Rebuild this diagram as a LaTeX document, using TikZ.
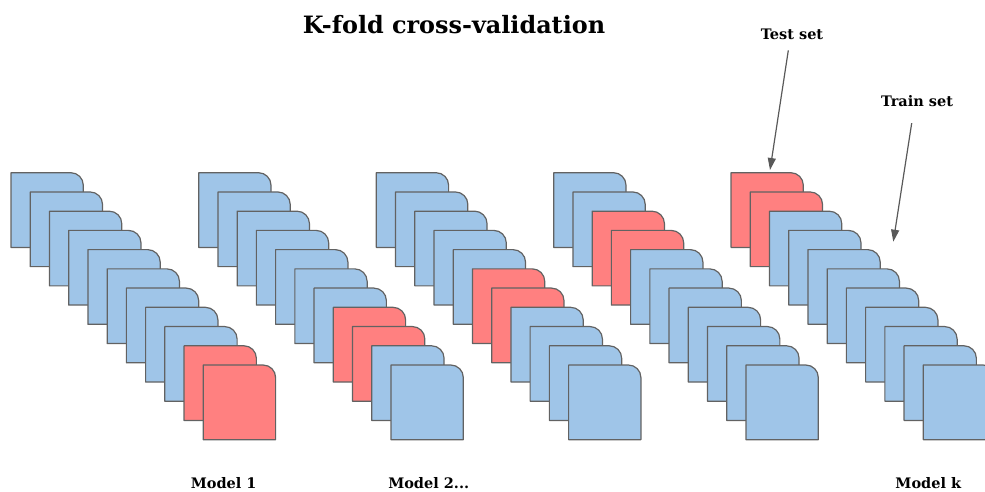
\documentclass[tikz,border=0pt]{standalone}
\usepackage{fontspec}
\setmainfont{DejaVu Serif}
\usetikzlibrary{arrows.meta}

\definecolor{foldblue}{HTML}{9FC5E8}
\definecolor{foldred}{HTML}{FF8080}
\definecolor{cardline}{HTML}{626262}
\definecolor{pointergray}{HTML}{595959}

\tikzset{
  cardedge/.style={draw=cardline, line width=1.2pt, line join=round},
  % one fold: a 72.3 x 74.7 card with its top-right corner rounded
  pics/foldcard/.style={code={
    \path[cardedge, fill=#1] (0,74.7) -- (0,0) -- (59.8,0)
      .. controls (66.7,0) and (72.3,5.6) .. (72.3,12.5) -- (72.3,74.7) -- cycle;
  }},
  caption/.style={font=\fontsize{14.5}{16}\selectfont\bfseries, inner sep=0pt, anchor=base},
  pointer/.style={draw=pointergray, line width=1.2pt,
    -{Triangle[length=12pt, width=8pt]}},
}

\begin{document}
\begin{tikzpicture}[x=1pt, y=-1pt]
  \useasboundingbox (0,0) rectangle (985,491);
  \clip (0,0) rectangle (985,491);

  % title
  \node[anchor=base, inner sep=0pt, font=\fontsize{23.9}{28}\selectfont\bfseries]
    (title) at (454,33) {K-fold cross-validation};

  % five stacks of eleven folds; the two red folds form the test set
  \foreach \sx/\r in {11/9, 198.7/7, 376.3/5, 553.7/2, 731/0} {
    \foreach \k in {0,...,10} {
      \pgfmathsetmacro\cx{\sx+19.23*\k}
      \pgfmathsetmacro\cy{172.7+19.23*\k}
      \ifnum\k=\r \def\cc{foldred}\else
        \ifnum\k=\numexpr\r+1\relax \def\cc{foldred}\else \def\cc{foldblue}\fi
      \fi
      \pic at (\cx,\cy) {foldcard=\cc};
    }
  }

  % model captions
  \node[caption] (model1) at (223.7,488) {Model 1};
  \node[caption] (model2) at (428.7,488) {Model 2...};
  \node[caption] (modelk) at (928.3,488) {Model k};

  % set labels with their pointers
  \node[caption] (testlbl) at (792,39.5) {Test set};
  \node[caption] (trainlbl) at (917,106.5) {Train set};
  \coordinate (testtip) at (770,170);
  \coordinate (traintip) at (893.3,241.7);
  \draw[pointer] ([shift={(-3.7pt,-10.5pt)}]testlbl.south) -- (testtip);
  \draw[pointer] ([shift={(-5.3pt,-16.2pt)}]trainlbl.south) -- (traintip);
\end{tikzpicture}
\end{document}
